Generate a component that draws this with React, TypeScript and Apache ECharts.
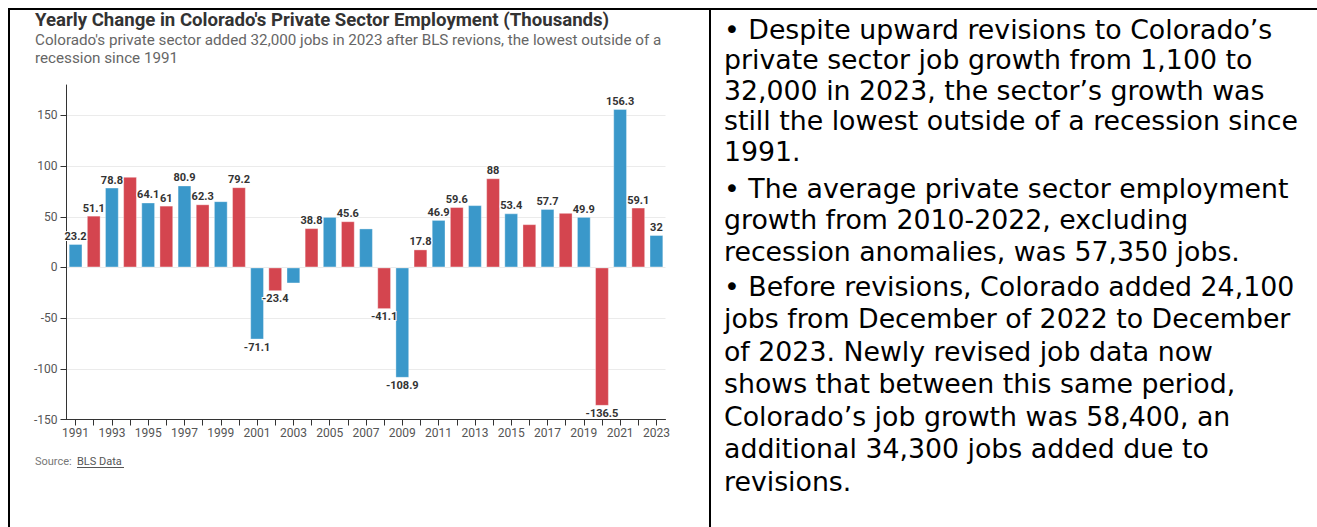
import React, { useEffect, useRef } from "react";
import * as echarts from "echarts";

const years = [
  "1991", "1992", "1993", "1994", "1995", "1996", "1997", "1998", "1999", "2000",
  "2001", "2002", "2003", "2004", "2005", "2006", "2007", "2008", "2009", "2010",
  "2011", "2012", "2013", "2014", "2015", "2016", "2017", "2018", "2019", "2020",
  "2021", "2022", "2023",
];

const jobChange = [
  23.2, 51.1, 78.8, 89.4, 64.1, 61, 80.9, 62.3, 65.4, 79.2,
  -71.1, -23.4, -15.8, 38.8, 49.9, 45.6, 38.5, -41.1, -108.9, 17.8,
  46.9, 59.6, 61.5, 88, 53.4, 42.7, 57.7, 53.9, 49.9, -136.5,
  156.3, 59.1, 32,
];

const unlabeledYears = ["1994", "1999", "2003", "2005", "2007", "2013", "2016", "2018"];

const yTicks = [-150, -100, -50, 0, 50, 100, 150];

const titleText = "Yearly Change in Colorado's Private Sector Employment (Thousands)";
const subtitleLines = [
  "Colorado's private sector added 32,000 jobs in 2023 after BLS revions, the lowest outside of a",
  "recession since 1991",
];

const notes = [
  [
    "\u2022 Despite upward revisions to Colorado\u2019s",
    "private sector job growth from 1,100 to",
    "32,000 in 2023, the sector\u2019s growth was",
    "still the lowest outside of a recession since",
    "1991.",
  ],
  [
    "\u2022 The average private sector employment",
    "growth from 2010-2022, excluding",
    "recession anomalies, was 57,350 jobs.",
  ],
  [
    "\u2022 Before revisions, Colorado added 24,100",
    "jobs from December of 2022 to December",
    "of 2023. Newly revised job data now",
    "shows that between this same period,",
    "Colorado\u2019s job growth was 58,400, an",
    "additional 34,300 jobs added due to",
    "revisions.",
  ],
];

const BLUE = "#3A98CA";
const RED = "#D4454F";

export default function App() {
  const ref = useRef<HTMLDivElement>(null);

  useEffect(() => {
    if (!ref.current) return;
    const chart = echarts.init(ref.current, null, { renderer: "svg" });

    const barData = jobChange.map((v, i) => ({
      value: v,
      itemStyle: { color: i % 2 === 0 ? BLUE : RED },
      label: {
        show: !unlabeledYears.includes(years[i]),
        position: v < 0 ? "bottom" : "top",
      },
    }));

    const noteFont = "DejaVu Sans, Verdana, sans-serif";
    const noteTops = [14.5, 173, 270.5];
    const noteLH = [30.5, 31.5, 32.5];

    const option: any = {
      animation: false,
      backgroundColor: "#fff",
      textStyle: { fontFamily: "Roboto, sans-serif" },
      grid: { left: 66.5, top: 85, width: 599, height: 334.5, containLabel: false },
      xAxis: {
        type: "category",
        data: years,
        position: "bottom",
        axisLine: { onZero: false, lineStyle: { color: "#333", width: 1 } },
        axisTick: { show: true, interval: 0, alignWithLabel: true, length: 6, lineStyle: { color: "#333" } },
        axisLabel: { interval: 1, color: "#555", fontSize: 12, margin: 7, fontFamily: "Roboto, sans-serif" },
        splitLine: { show: false },
      },
      yAxis: {
        type: "value",
        min: -150,
        max: 180,
        interval: 50,
        axisLine: { show: true, lineStyle: { color: "#333", width: 1 } },
        axisTick: { show: true, length: 6, lineStyle: { color: "#333" }, customValues: yTicks },
        axisLabel: { color: "#555", fontSize: 12, margin: 9, customValues: yTicks, fontFamily: "Roboto, sans-serif" },
        splitLine: { show: true, showMinLine: false, lineStyle: { color: "#ebebeb", width: 1 } },
      },
      series: [
        {
          type: "bar",
          data: barData,
          barCategoryGap: "24%",
          itemStyle: { borderColor: "rgba(255,255,255,0.35)", borderWidth: 1 },
          label: {
            show: true,
            distance: 2,
            color: "#333",
            fontSize: 11,
            fontWeight: "bold",
            fontFamily: "Roboto, sans-serif",
            textBorderColor: "#fff",
            textBorderWidth: 2,
          },
        },
      ],
      graphic: [
        { type: "rect", shape: { x: 8, y: 8, width: 1309, height: 2 }, style: { fill: "#000" }, silent: true },
        { type: "rect", shape: { x: 8, y: 8, width: 2, height: 519 }, style: { fill: "#000" }, silent: true },
        { type: "rect", shape: { x: 709, y: 8, width: 2, height: 519 }, style: { fill: "#000" }, silent: true },
        {
          type: "text",
          x: 35,
          y: 19.5,
          scaleX: 0.98,
          style: { text: titleText, fill: "#333", font: "bold 19px Roboto, sans-serif", verticalAlign: "middle", align: "left" },
        },
        {
          type: "text",
          x: 35,
          y: 40,
          style: { text: subtitleLines[0], fill: "#666", font: "15.2px Roboto, sans-serif", verticalAlign: "middle", align: "left" },
        },
        {
          type: "text",
          x: 35,
          y: 58,
          style: { text: subtitleLines[1], fill: "#666", font: "15.2px Roboto, sans-serif", verticalAlign: "middle", align: "left" },
        },
        {
          type: "text",
          x: 35,
          y: 461.5,
          style: { text: "Source: ", fill: "#777", font: "11px Roboto, sans-serif", verticalAlign: "middle", align: "left" },
        },
        {
          type: "text",
          x: 77,
          y: 461.5,
          style: { text: "BLS Data", fill: "#555", font: "11px Roboto, sans-serif", verticalAlign: "middle", align: "left" },
        },
        { type: "rect", shape: { x: 77, y: 467, width: 47, height: 1 }, style: { fill: "#555" }, silent: true },
        ...notes.map((lines, k) => ({
          type: "text",
          x: 724,
          y: noteTops[k],
          scaleX: 1.03,
          style: {
            text: lines.join("\n"),
            fill: "#000",
            fontFamily: noteFont,
            fontSize: 26,
            lineHeight: noteLH[k],
            verticalAlign: "top",
            align: "left",
          },
        })),
      ],
    };

    chart.setOption(option);
    return () => chart.dispose();
  }, []);

  return (
    <div
      ref={ref}
      style={{ position: "fixed", left: 0, top: 0, width: 1317, height: 527, background: "#fff" }}
    />
  );
}
